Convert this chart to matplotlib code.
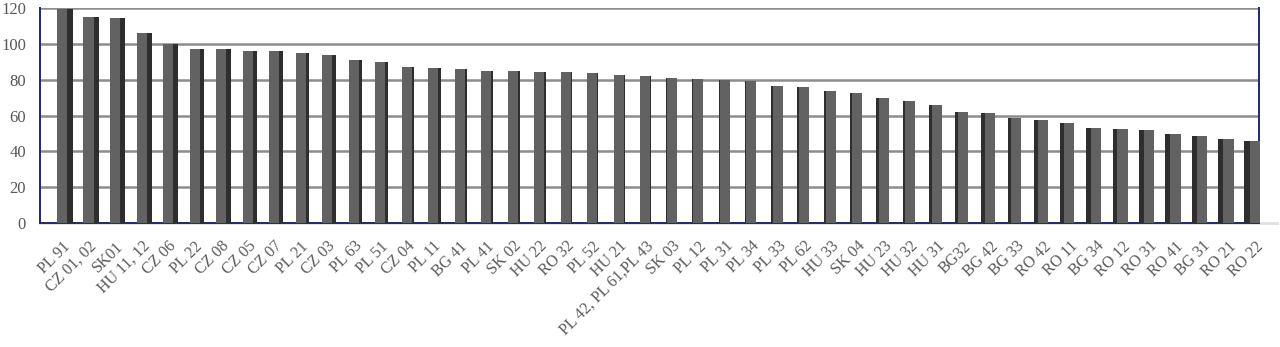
import numpy as np
import matplotlib
matplotlib.use('agg')
import matplotlib.pyplot as plt

#region labels, in chart order
regions = ['PL 91', 'CZ 01, 02', 'SK01', 'HU 11, 12', 'CZ 06', 'PL 22', 'CZ 08', 'CZ 05',
	'CZ 07', 'PL 21', 'CZ 03', 'PL 63', 'PL 51', 'CZ 04', 'PL 11', 'BG 41', 'PL 41',
	'SK 02', 'HU 22', 'RO 32', 'PL 52', 'HU 21', 'PL 42, PL 61,PL 43', 'SK 03', 'PL 12',
	'PL 31', 'PL 34', 'PL 33', 'PL 62', 'HU 33', 'SK 04', 'HU 23', 'HU 32', 'HU 31',
	'BG32', 'BG 42', 'BG 33', 'RO 42', 'RO 11', 'BG 34', 'RO 12', 'RO 31', 'RO 41',
	'BG 31', 'RO 21', 'RO 22']
#bar heights
values = [119.5, 115.1, 114.2, 106.2, 99.7, 97.3, 97.3, 96.2, 96.0, 94.9, 93.6, 91.0,
	89.7, 87.1, 86.3, 85.8, 85.0, 85.0, 84.3, 84.1, 83.9, 82.6, 82.2, 80.7, 80.5,
	79.8, 79.1, 76.6, 75.9, 73.5, 72.4, 69.9, 68.1, 65.8, 62.1, 61.2, 58.8, 57.5,
	55.8, 53.2, 52.3, 51.7, 49.8, 48.5, 46.7, 45.6]
yticks = [0, 20, 40, 60, 80, 100, 120]

navy = '#1f2a6b'
txt = '#595959'
plt.rcParams['font.family'] = ['Liberation Serif', 'DejaVu Serif']

fig = plt.figure(figsize=(12.8, 3.47), dpi=100)
ax = fig.add_axes([40/1280, 1 - 223/347, (1259-40)/1280, (223-8)/347])

x = np.arange(len(values))
mid = (len(values) - 1) / 2.0
front_w = 0.38

#fake 3d look: a dark side face next to each front face
side_w = 0.2 * np.abs(x - mid) / mid + 0.02
side_x = np.where(x < mid, x + front_w/2 + side_w/2, x - front_w/2 - side_w/2)

ax.bar(side_x, values, width=side_w, color='#2e2e2e', linewidth=0, zorder=3, clip_on=False)
ax.bar(x, values, width=front_w, color='#626262', linewidth=0, zorder=3, clip_on=False)

ax.set_ylim(0, 120)
ax.set_xlim(-0.83, 45.15)
ax.set_yticks(yticks)
ax.yaxis.grid(True, color='#8c8c8c', linewidth=1.8, zorder=0)
ax.set_axisbelow(True)

#light floor line under the plot
ax.axhline(0, xmin=0, xmax=1.015, color='#e0e0e0', linewidth=2, zorder=1, clip_on=False)

ax.set_xticks(x)
ax.set_xticklabels(regions, rotation=45, ha='right', rotation_mode='anchor', fontsize=11.5, color=txt)
ax.tick_params(axis='x', length=0, pad=11)
ax.tick_params(axis='y', length=0, pad=10, labelsize=12, labelcolor=txt)

for s in ['left', 'bottom', 'right']:
	ax.spines[s].set_color(navy)
	ax.spines[s].set_linewidth(1.4)
	ax.spines[s].set_zorder(2)
ax.spines['top'].set_visible(False)

plt.savefig('out.png', dpi=100)
